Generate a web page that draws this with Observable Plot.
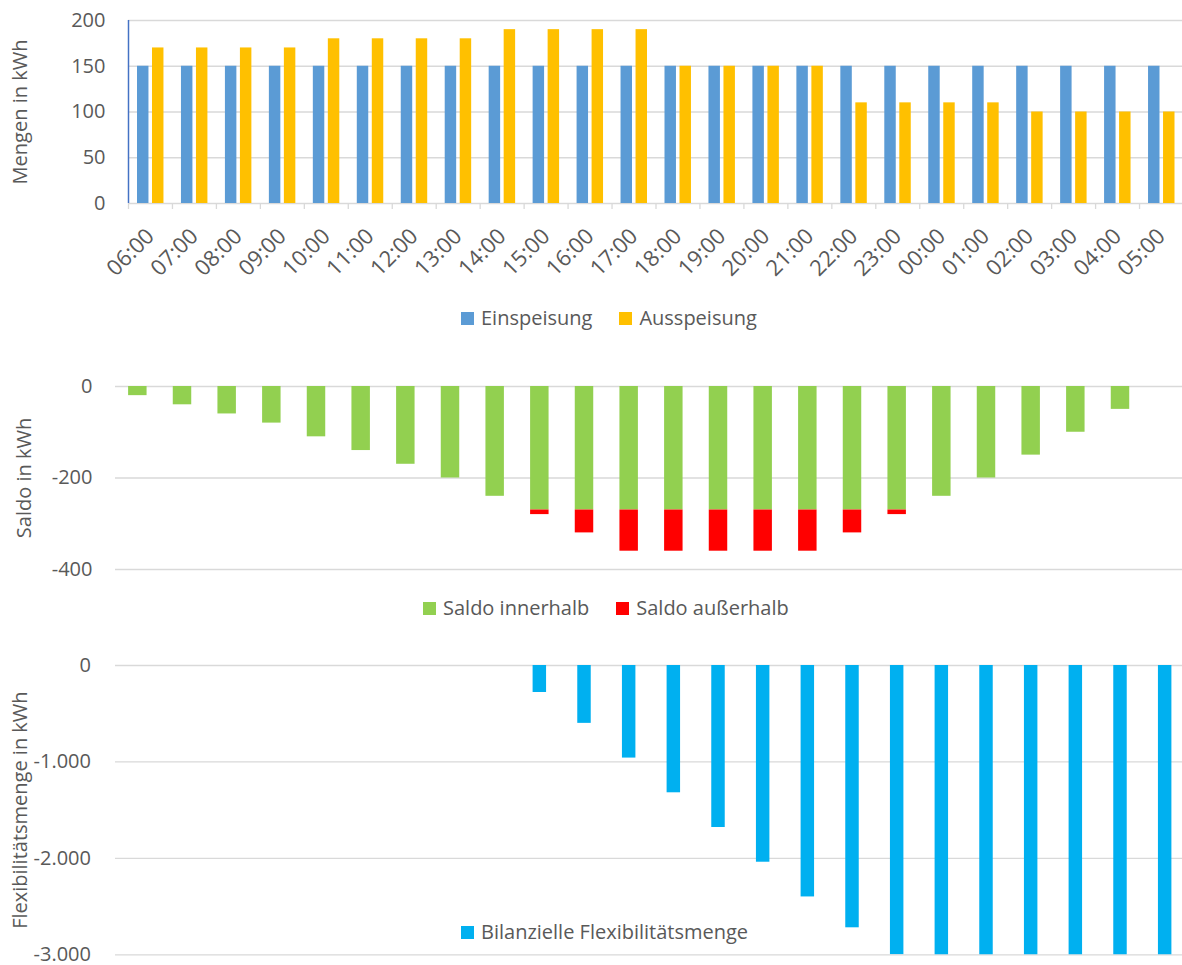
<!DOCTYPE html>
<html><head><meta charset="utf-8">
<script src="https://cdn.jsdelivr.net/npm/d3@7"></script>
<script src="https://cdn.jsdelivr.net/npm/@observablehq/plot@0.6"></script>
<style>
body{margin:0;background:#fff;font-family:"Open Sans",sans-serif;}
#wrap{position:relative;width:1182px;height:965px;overflow:hidden;}
.chart{position:absolute;left:0;}
.legend{position:absolute;display:flex;align-items:center;font-size:20px;line-height:24px;color:#595959;white-space:nowrap;font-family:"Open Sans",sans-serif;}
.legend .item{display:flex;align-items:center;margin-right:27px;}
.legend .sw{display:inline-block;width:13px;height:13px;margin-right:7px;}
</style></head>
<body><div id="wrap"></div>
<script>
// ---- data ----
const times = ["06:00","07:00","08:00","09:00","10:00","11:00","12:00","13:00","14:00","15:00","16:00","17:00",
               "18:00","19:00","20:00","21:00","22:00","23:00","00:00","01:00","02:00","03:00","04:00","05:00"];
const einspeisung = [150,150,150,150,150,150,150,150,150,150,150,150,150,150,150,150,150,150,150,150,150,150,150,150];
const ausspeisung = [170,170,170,170,180,180,180,180,190,190,190,190,150,150,150,150,110,110,110,110,100,100,100,100];
const saldoInnerhalb = [-20,-40,-60,-80,-110,-140,-170,-200,-240,-270,-270,-270,-270,-270,-270,-270,-270,-270,-240,-200,-150,-100,-50,0];
const saldoAusserhalb = [0,0,0,0,0,0,0,0,0,-10,-50,-90,-90,-90,-90,-90,-50,-10,0,0,0,0,0,0];
const flexMenge = [0,0,0,0,0,0,0,0,0,-280,-600,-960,-1320,-1680,-2040,-2400,-2720,-3000,-3240,-3440,-3590,-3690,-3740,-3740];
const ticksTop = [0,50,100,150,200];
const ticksMid = [0,-200,-400];
const ticksBot = [0,-1000,-2000,-3000];

const fmt = d3.formatLocale({decimal:",", thousands:".", grouping:[3], currency:["","€"], minus:"-"}).format(",d");
const grid = "#d9d9d9";
const txt = "#595959";
const baseStyle = {fontFamily:'"Open Sans", sans-serif', fontSize:"20px", color:txt, background:"transparent", overflow:"visible"};
const wrap = document.getElementById("wrap");

function place(node, top){ node.classList.add("chart"); node.style.top = top + "px"; wrap.appendChild(node); }
function legend(items, left, top){
  const div = document.createElement("div");
  div.className = "legend"; div.style.left = left + "px"; div.style.top = top + "px";
  items.forEach(([label,color]) => {
    const it = document.createElement("span"); it.className = "item";
    const sw = document.createElement("span"); sw.className = "sw"; sw.style.background = color;
    it.appendChild(sw); it.appendChild(document.createTextNode(label)); div.appendChild(it);
  });
  wrap.appendChild(div);
}

// ---- chart 1 ----
const d1 = times.map((t,i)=>({time:t, ein:einspeisung[i], aus:ausspeisung[i]}));
const p1 = Plot.plot({
  width:1182, height:300, marginLeft:128, marginRight:0, marginTop:20, marginBottom:97,
  style: baseStyle,
  x:{type:"band", domain:times, range:[128,1183], padding:0, round:false},
  y:{domain:[0,200]},
  marks:[
    Plot.gridY(ticksTop,{stroke:grid, strokeOpacity:1, strokeWidth:1.3}),
    Plot.ruleX(times,{x:d=>d, dx:-21.98, insetTop:183, insetBottom:-6, stroke:grid, strokeWidth:1.3}),
    Plot.barY(d1,{x:"time", y:"ein", fill:"#5B9BD5", insetLeft:9, insetRight:23.5}),
    Plot.barY(d1,{x:"time", y:"aus", fill:"#FFC000", insetLeft:24, insetRight:8.5}),
    Plot.ruleX([times[0]],{x:d=>d, dx:-21.98, stroke:"#4472C4", strokeWidth:1.5}),
    Plot.axisY({ticks:ticksTop, tickSize:0, tickPadding:23, label:"Mengen in kWh", labelAnchor:"center", labelOffset:116, labelArrow:"none", fontSize:20}),
    Plot.axisX({tickSize:0, tickPadding:29, tickRotate:-45, dx:0, textAnchor:"end", lineAnchor:"middle", label:null, fontSize:22})
  ]
});
place(p1, 0);
legend([["Einspeisung","#5B9BD5"],["Ausspeisung","#FFC000"]], 461, 306);

// ---- chart 2 ----
const d2 = [];
times.forEach((t,i)=>{
  d2.push({time:t, part:"Saldo innerhalb", v:saldoInnerhalb[i]});
  d2.push({time:t, part:"Saldo außerhalb", v:saldoAusserhalb[i]});
});
const p2 = Plot.plot({
  width:1182, height:250, marginLeft:115, marginRight:0, marginTop:46, marginBottom:21,
  style: baseStyle,
  x:{type:"band", domain:times, range:[115,1187], padding:0, round:false, axis:null},
  y:{domain:[-400,0]},
  color:{domain:["Saldo innerhalb","Saldo außerhalb"], range:["#92D050","#FF0000"]},
  marks:[
    Plot.gridY(ticksMid,{stroke:grid, strokeOpacity:1, strokeWidth:1.3}),
    Plot.barY(d2, Plot.stackY({x:"time", y:"v", fill:"part", insetLeft:13.1, insetRight:13.1})),
    Plot.axisY({ticks:ticksMid, tickFormat:fmt, tickSize:0, tickPadding:23, label:"Saldo in kWh", labelAnchor:"center", labelOffset:99, labelArrow:"none", fontSize:20})
  ]
});
place(p2, 340);
legend([["Saldo innerhalb","#92D050"],["Saldo außerhalb","#FF0000"]], 423, 596);

// ---- chart 3 ----
const d3data = times.map((t,i)=>({time:t, flex:flexMenge[i]}));
const p3 = Plot.plot({
  width:1182, height:345, marginLeft:115, marginRight:0, marginTop:45, marginBottom:10.7,
  style: baseStyle,
  x:{type:"band", domain:times, range:[115,1187], padding:0, round:false, axis:null},
  y:{domain:[-3000,0]},
  marks:[
    Plot.gridY(ticksBot,{stroke:grid, strokeOpacity:1, strokeWidth:1.3}),
    Plot.barY(d3data,{x:"time", y:"flex", fill:"#00B0F0", insetLeft:15.6, insetRight:15.6, clip:true}),
    Plot.axisY({ticks:ticksBot, tickFormat:fmt, tickSize:0, tickPadding:24.5, label:"Flexibilitätsmenge in kWh", labelAnchor:"center", labelOffset:103, labelArrow:"none", fontSize:20})
  ]
});
place(p3, 620);
legend([["Bilanzielle Flexibilitätsmenge","#00B0F0"]], 461, 920);
</script>
</body></html>
